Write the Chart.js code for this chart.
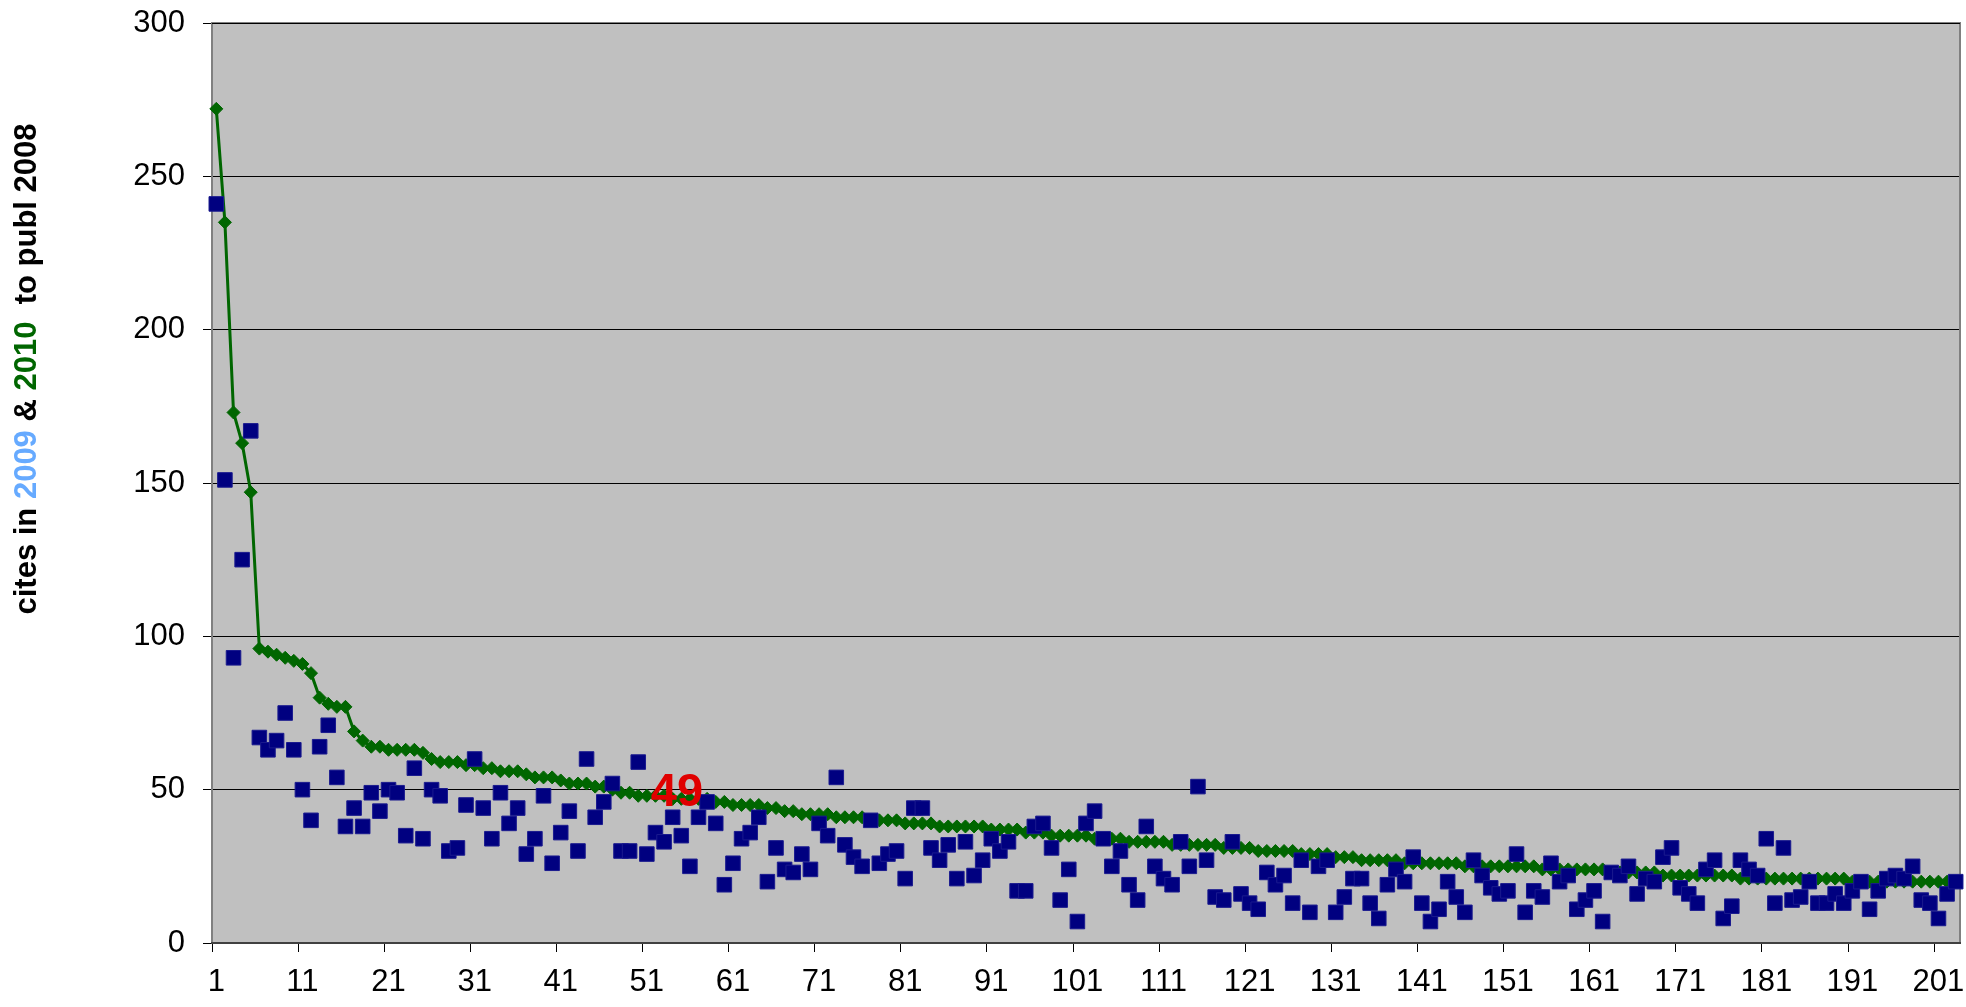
<!DOCTYPE html>
<html>
<head>
<meta charset="utf-8">
<script src="https://cdn.jsdelivr.net/npm/chart.js@4.4.1/dist/chart.umd.min.js"></script>
<style>
  html, body { margin: 0; padding: 0; background: #ffffff; }
  #wrap { width: 1966px; height: 1007px; position: relative; }
</style>
</head>
<body>
<div id="wrap"><canvas id="chart"></canvas></div>
<script>
// ---- data ----
const categories = Array.from({ length: 203 }, (_, i) => String(i + 1)); // paper rank 1..203
const xTickLabels = ['1', '11', '21', '31', '41', '51', '61', '71', '81', '91', '101',
  '111', '121', '131', '141', '151', '161', '171', '181', '191', '201'];
const yTickValues = [0, 50, 100, 150, 200, 250, 300];

// cites in 2009 (blue squares)
const cites2009 = [
  241, 151, 93, 125, 167, 67, 63, 66, 75, 63,
  50, 40, 64, 71, 54, 38, 44, 38, 49, 43,
  50, 49, 35, 57, 34, 50, 48, 30, 31, 45,
  60, 44, 34, 49, 39, 44, 29, 34, 48, 26,
  36, 43, 30, 60, 41, 46, 52, 30, 30, 59,
  29, 36, 33, 41, 35, 25, 41, 46, 39, 19,
  26, 34, 36, 41, 20, 31, 24, 23, 29, 24,
  39, 35, 54, 32, 28, 25, 40, 26, 29, 30,
  21, 44, 44, 31, 27, 32, 21, 33, 22, 27,
  34, 30, 33, 17, 17, 38, 39, 31, 14, 24,
  7, 39, 43, 34, 25, 30, 19, 14, 38, 25,
  21, 19, 33, 25, 51, 27, 15, 14, 33, 16,
  13, 11, 23, 19, 22, 13, 27, 10, 25, 27,
  10, 15, 21, 21, 13, 8, 19, 24, 20, 28,
  13, 7, 11, 20, 15, 10, 27, 22, 18, 16,
  17, 29, 10, 17, 15, 26, 20, 22, 11, 14,
  17, 7, 23, 22, 25, 16, 21, 20, 28, 31,
  18, 16, 13, 24, 27, 8, 12, 27, 24, 22,
  34, 13, 31, 14, 15, 20, 13, 13, 16, 13,
  17, 20, 11, 17, 21, 22, 21, 25, 14, 13,
  8, 16, 20
];

// cites in 2010 (green diamonds + line)
const cites2010 = [
  272, 235, 173, 163, 147, 96, 95, 94, 93, 92,
  91, 88, 80, 78, 77, 77, 69, 66, 64, 64,
  63, 63, 63, 63, 62, 60, 59, 59, 59, 58,
  58, 57, 57, 56, 56, 56, 55, 54, 54, 54,
  53, 52, 52, 52, 51, 51, 50, 49, 49, 48,
  48, 48, 48, 47, 47, 47, 47, 47, 46, 46,
  45, 45, 45, 45, 44, 44, 43, 43, 42, 42,
  42, 42, 41, 41, 41, 41, 40, 40, 40, 40,
  39, 39, 39, 39, 38, 38, 38, 38, 38, 38,
  37, 37, 37, 37, 36, 36, 36, 35, 35, 35,
  35, 35, 34, 34, 34, 34, 33, 33, 33, 33,
  33, 32, 32, 32, 32, 32, 32, 31, 31, 31,
  31, 30, 30, 30, 30, 30, 29, 29, 29, 29,
  28, 28, 28, 27, 27, 27, 27, 27, 26, 26,
  26, 26, 26, 26, 26, 25, 25, 25, 25, 25,
  25, 25, 25, 25, 24, 24, 24, 24, 24, 24,
  24, 24, 23, 23, 23, 23, 23, 23, 22, 22,
  22, 22, 22, 22, 22, 22, 22, 21, 21, 21,
  21, 21, 21, 21, 21, 21, 21, 21, 21, 21,
  20, 20, 20, 20, 20, 20, 20, 20, 20, 20,
  20, 20, 20
];

// red annotation in the plot
const noteText = '49';
const noteCategory = 54.5;   // category position (rank)
const noteValue = 49;

// y-axis title pieces (text, colour)
const titleTexts = ['cites in ', '2009', ' & ', '2010', '  to publ 2008'];
const titleColors = ['#000000', '#66aaff', '#000000', '#006600', '#000000'];

// ---- styling ----
const FONT = "'Liberation Sans', Arial, Helvetica, sans-serif";

const plotBackground = {
  id: 'plotBackground',
  beforeDraw(chart) {
    const { ctx, chartArea: a } = chart;
    ctx.save();
    ctx.fillStyle = '#c0c0c0';
    ctx.fillRect(a.left, a.top, a.right - a.left, a.bottom - a.top);
    ctx.restore();
  },
  beforeDatasetsDraw(chart) {
    const { ctx, chartArea: a } = chart;
    ctx.save();
    ctx.strokeStyle = '#808080';
    ctx.lineWidth = 2;
    ctx.beginPath();
    ctx.moveTo(a.left, a.bottom);
    ctx.lineTo(a.left, a.top);
    ctx.lineTo(a.right, a.top);
    ctx.lineTo(a.right, a.bottom);
    ctx.stroke();
    ctx.strokeStyle = '#000000';
    ctx.lineWidth = 1;
    ctx.beginPath();
    ctx.moveTo(a.left, Math.round(a.top) + 0.5);
    ctx.lineTo(a.right, Math.round(a.top) + 0.5);
    ctx.stroke();
    ctx.strokeStyle = '#404040';
    ctx.lineWidth = 2;
    ctx.beginPath();
    ctx.moveTo(a.left - 1, a.bottom);
    ctx.lineTo(a.right + 1, a.bottom);
    ctx.stroke();
    ctx.restore();
  }
};

const noteLabel = {
  id: 'noteLabel',
  afterDatasetsDraw(chart) {
    const { ctx, scales } = chart;
    const x = scales.x.getPixelForValue(noteCategory - 1);
    const y = scales.y.getPixelForValue(noteValue);
    ctx.save();
    ctx.font = 'bold 47px ' + FONT;
    ctx.fillStyle = '#e00000';
    ctx.textAlign = 'center';
    ctx.textBaseline = 'middle';
    ctx.fillText(noteText, x, y);
    ctx.restore();
  }
};

const yTitle = {
  id: 'yTitle',
  afterDraw(chart) {
    const { ctx } = chart;
    ctx.save();
    ctx.font = 'bold 31px ' + FONT;
    ctx.textBaseline = 'middle';
    ctx.textAlign = 'left';
    const widths = titleTexts.map(t => ctx.measureText(t).width);
    const total = widths.reduce((s, w) => s + w, 0);
    ctx.translate(27, 369);
    ctx.rotate(-Math.PI / 2);
    let x = -total / 2;
    titleTexts.forEach((t, i) => {
      ctx.fillStyle = titleColors[i];
      ctx.fillText(t, x, 0);
      x += widths[i];
    });
    ctx.restore();
  }
};

const tickSet = new Set(xTickLabels);

new Chart(document.getElementById('chart'), {
  type: 'line',
  data: {
    labels: categories,
    datasets: [
      {
        label: '2009',
        data: cites2009,
        showLine: false,
        pointStyle: 'rect',
        pointRadius: 10.3,
        pointHoverRadius: 10.3,
        pointBackgroundColor: '#000080',
        pointBorderColor: '#1a1a8e',
        pointBorderWidth: 1,
        clip: false
      },
      {
        label: '2010',
        data: cites2010,
        borderColor: '#006600',
        borderWidth: 3,
        tension: 0,
        pointStyle: 'rectRot',
        pointRadius: 6.5,
        pointHoverRadius: 6.5,
        pointBackgroundColor: '#006600',
        pointBorderColor: '#006600',
        pointBorderWidth: 1,
        clip: false
      }
    ]
  },
  options: {
    responsive: true,
    maintainAspectRatio: false,
    animation: false,
    events: [],
    layout: { autoPadding: false, padding: { left: 0, right: 6, top: 23, bottom: 0 } },
    plugins: {
      legend: { display: false },
      tooltip: { enabled: false },
      title: { display: false }
    },
    scales: {
      x: {
        type: 'category',
        offset: true,
        afterFit(scale) {
          scale.height = 64;
          scale.paddingLeft = 0; scale.paddingRight = 0;
          scale.paddingTop = 0; scale.paddingBottom = 0;
        },
        grid: {
          offset: true,
          drawOnChartArea: false,
          drawTicks: true,
          tickLength: 9,
          tickWidth: 1,
          tickColor: (ctx) => (ctx.index % 10 === 0 ? '#000000' : 'rgba(0,0,0,0)')
        },
        border: { display: false },
        ticks: {
          autoSkip: false,
          maxRotation: 0,
          minRotation: 0,
          padding: 12,
          color: '#000000',
          font: { family: FONT, size: 31 },
          callback(value, index) {
            const lab = categories[index];
            return tickSet.has(lab) ? lab : '';
          }
        }
      },
      y: {
        min: 0,
        max: 300,
        afterFit(scale) {
          scale.width = 212;
          scale.paddingLeft = 0; scale.paddingRight = 0;
          scale.paddingTop = 0; scale.paddingBottom = 0;
        },
        afterBuildTicks(scale) { scale.ticks = yTickValues.map(v => ({ value: v })); },
        grid: {
          color: '#000000',
          lineWidth: 1,
          drawTicks: true,
          tickLength: 9,
          tickColor: '#000000'
        },
        border: { display: false },
        ticks: {
          padding: 18,
          color: '#000000',
          font: { family: FONT, size: 31 }
        }
      }
    }
  },
  plugins: [plotBackground, noteLabel, yTitle]
});
</script>
</body>
</html>
